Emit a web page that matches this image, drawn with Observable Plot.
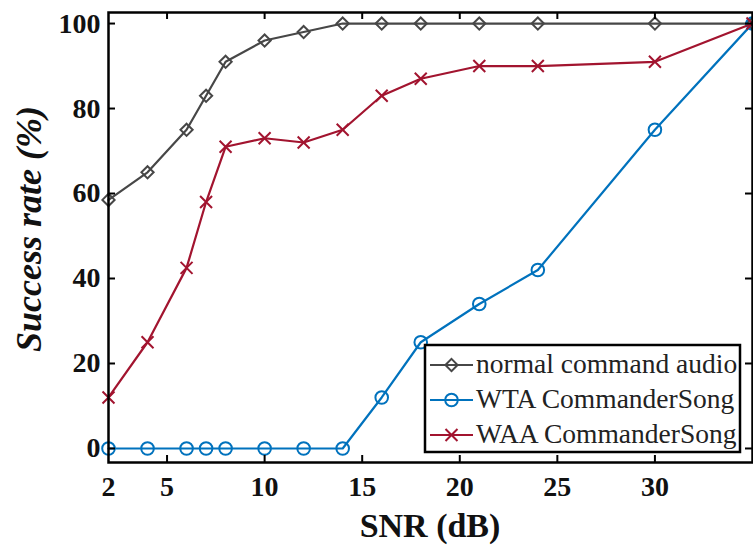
<!DOCTYPE html>
<html><head><meta charset="utf-8">
<script src="https://cdn.jsdelivr.net/npm/d3@7"></script>
<script src="https://cdn.jsdelivr.net/npm/@observablehq/plot@0.6"></script>
<style>
body{margin:0;background:#fff;}
svg{display:block;}
</style></head><body><div id="chart"></div>
<script>
const snr = [2, 4, 6, 7, 8, 10, 12, 14, 16, 18, 21, 24, 30, 35];
const normalRate = [58.5, 65, 75, 83, 91, 96, 98, 100, 100, 100, 100, 100, 100, 100];
const wtaRate = [0, 0, 0, 0, 0, 0, 0, 0, 12, 25, 34, 42, 75, 100];
const waaRate = [12, 25, 42.5, 58, 71, 73, 72, 75, 83, 87, 90, 90, 91, 100];
const seriesNames = ["normal command audio", "WTA CommanderSong", "WAA CommanderSong"];
const seriesColors = ["#474747", "#0072BD", "#A2142F"];
const seriesSymbols = ["diamond2", "circle", "times"];
const xTicks = [2, 5, 10, 15, 20, 25, 30];
const yTicks = [0, 20, 40, 60, 80, 100];
const xDomain = [2, 35];
const yDomain = [-3.3, 102.6];
const xLabel = "SNR (dB)";
const yLabel = "Success rate (%)";

const W = 753, H = 545, mL = 108, mR = 1, mT = 12, mB = 83;
const font = "'Liberation Serif','Times New Roman',serif";
const toRows = ys => snr.map((x, i) => ({x, y: ys[i]}));
const series = [normalRate, wtaRate, waaRate].map(toRows);
const symR = [5.5, 6.3, 5.5];

// inward tick length expressed in data units of each scale
const tickPx = 7;
const yPerPx = (yDomain[1] - yDomain[0]) / (H - mT - mB);
const xPerPx = (xDomain[1] - xDomain[0]) / (W - mL - mR);
const ty = tickPx * yPerPx, tx = tickPx * xPerPx;

const marks = [];
series.forEach((rows, k) => {
  marks.push(Plot.line(rows, {x: "x", y: "y", stroke: seriesColors[k], strokeWidth: 2.2}));
  marks.push(Plot.dot(rows, {x: "x", y: "y", symbol: seriesSymbols[k], r: symR[k], stroke: seriesColors[k], strokeWidth: 2, fill: "none"}));
});
// tick labels
marks.push(Plot.axisX(xTicks, {anchor: "bottom", tickSize: 0, tickPadding: 14, fontSize: 28, fontWeight: "bold", fill: "#111", label: null}));
marks.push(Plot.axisY(yTicks, {anchor: "left", tickSize: 0, tickPadding: 8, fontSize: 28, fontWeight: "bold", fill: "#111", label: null}));
// inward ticks on all sides
const xIn = xTicks.slice(1);
marks.push(Plot.ruleX(xIn, {x: d => d, y1: yDomain[0], y2: yDomain[0] + ty, stroke: "#000", strokeWidth: 2}));
marks.push(Plot.ruleX(xIn, {x: d => d, y1: yDomain[1], y2: yDomain[1] - ty, stroke: "#000", strokeWidth: 2}));
marks.push(Plot.ruleY(yTicks, {y: d => d, x1: xDomain[0], x2: xDomain[0] + tx, stroke: "#000", strokeWidth: 2}));
marks.push(Plot.ruleY(yTicks, {y: d => d, x1: xDomain[1], x2: xDomain[1] - tx, stroke: "#000", strokeWidth: 2}));
marks.push(Plot.frame({stroke: "#000", strokeWidth: 2.5}));

const plot = Plot.plot({
  width: W, height: H,
  marginLeft: mL, marginRight: mR, marginTop: mT, marginBottom: mB,
  x: {domain: xDomain},
  y: {domain: yDomain},
  style: {fontFamily: font, background: "#fff", color: "#000", overflow: "hidden"},
  marks
});
document.getElementById("chart").appendChild(plot);

const svg = d3.select(plot);
// axis titles
svg.append("text")
  .attr("x", (mL + W - mR) / 2).attr("y", 537)
  .attr("text-anchor", "middle")
  .attr("font-family", font).attr("font-weight", "bold").attr("font-size", 34)
  .attr("fill", "#111")
  .text(xLabel);
svg.append("text")
  .attr("transform", `translate(41,${(mT + H - mB) / 2 - 8}) rotate(-90)`)
  .attr("text-anchor", "middle")
  .attr("font-family", font).attr("font-weight", "bold").attr("font-style", "italic").attr("font-size", 36)
  .attr("fill", "#111")
  .text(yLabel);

// legend
const lg = svg.append("g");
lg.append("rect").attr("x", 425).attr("y", 345).attr("width", 315).attr("height", 107)
  .attr("fill", "#fff").attr("stroke", "#000").attr("stroke-width", 2.5);
const symMap = {diamond2: d3.symbolDiamond2, circle: d3.symbolCircle, times: d3.symbolTimes};
seriesNames.forEach((name, k) => {
  const cy = 365 + k * 35;
  lg.append("line").attr("x1", 430).attr("x2", 473).attr("y1", cy).attr("y2", cy)
    .attr("stroke", seriesColors[k]).attr("stroke-width", 2.2);
  lg.append("path")
    .attr("d", d3.symbol(symMap[seriesSymbols[k]], Math.PI * symR[k] * symR[k])())
    .attr("transform", `translate(451.5,${cy})`)
    .attr("fill", "none").attr("stroke", seriesColors[k]).attr("stroke-width", 2);
  lg.append("text").attr("x", 476).attr("y", cy + 8)
    .attr("text-anchor", "start")
    .attr("font-family", font).attr("font-size", 27.5).attr("fill", "#222")
    .text(name);
});
</script>
</body></html>
